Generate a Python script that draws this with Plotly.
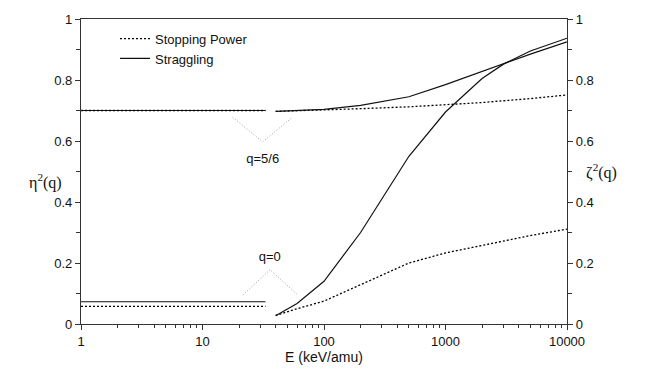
import plotly.graph_objects as go

# ---- data ----
E_low = [1, 33]
sp_q56_low = [0.70, 0.70]
st_q56_low = [0.70, 0.70]
sp_q0_low = [0.058, 0.058]
st_q0_low = [0.073, 0.073]

E_high = [40, 60, 100, 200, 500, 1000, 2000, 3000, 5000, 10000]
sp_q56 = [0.697, 0.699, 0.702, 0.706, 0.712, 0.718, 0.726, 0.732, 0.739, 0.751]
st_q56 = [0.697, 0.700, 0.704, 0.717, 0.745, 0.785, 0.828, 0.855, 0.885, 0.925]
sp_q0 = [0.028, 0.050, 0.075, 0.130, 0.200, 0.233, 0.258, 0.274, 0.290, 0.311]
st_q0 = [0.027, 0.067, 0.140, 0.300, 0.550, 0.695, 0.805, 0.852, 0.895, 0.937]

# annotation pointer "V" marks
v56_E = [17.7, 31.3, 55]
v56_y = [0.678, 0.597, 0.678]
v0_E = [21.5, 36, 61]
v0_y = [0.095, 0.178, 0.095]

labels = ["q=5/6", "q=0"]
label_E = [31.3, 35.8]
label_y = [0.54, 0.216]

x_ticks = [1, 10, 100, 1000, 10000]
x_minor = [m * d for d in [1, 10, 100, 1000] for m in range(2, 10)]
y_ticks = [0, 0.2, 0.4, 0.6, 0.8, 1]
y_ticklabels = ["0", "0.2", "0.4", "0.6", "0.8", "1"]

BLACK = "#111111"
DOT = dict(color="#000000", width=1.3, dash="2px,2px")
SOLID = dict(color=BLACK, width=1.2)
VDOT = dict(color="#a0a0a0", width=1, dash="1px,2px")

fig = go.Figure()
fig.add_trace(go.Scatter(x=E_high, y=sp_q56, mode="lines", line=DOT, name="Stopping Power", showlegend=True))
fig.add_trace(go.Scatter(x=E_high, y=st_q56, mode="lines", line=SOLID, name="Straggling", showlegend=True))
fig.add_trace(go.Scatter(x=E_high, y=sp_q0, mode="lines", line=DOT, showlegend=False))
fig.add_trace(go.Scatter(x=E_high, y=st_q0, mode="lines", line=SOLID, showlegend=False))
fig.add_trace(go.Scatter(x=E_low, y=sp_q56_low, mode="lines", line=DOT, showlegend=False))
fig.add_trace(go.Scatter(x=E_low, y=st_q56_low, mode="lines", line=SOLID, showlegend=False))
fig.add_trace(go.Scatter(x=E_low, y=sp_q0_low, mode="lines", line=DOT, showlegend=False))
fig.add_trace(go.Scatter(x=E_low, y=st_q0_low, mode="lines", line=SOLID, showlegend=False))
fig.add_trace(go.Scatter(x=v56_E, y=v56_y, mode="lines", line=VDOT, showlegend=False))
fig.add_trace(go.Scatter(x=v0_E, y=v0_y, mode="lines", line=VDOT, showlegend=False))
fig.add_trace(go.Scatter(x=label_E, y=label_y, mode="text", text=labels,
                         textfont=dict(size=13, color=BLACK), showlegend=False, hoverinfo="skip"))
# invisible trace to activate right axis
fig.add_trace(go.Scatter(x=[1], y=[0], yaxis="y2", mode="markers", marker=dict(opacity=0),
                         showlegend=False, hoverinfo="skip"))

font = dict(family="Liberation Sans, Arial, sans-serif", size=13, color=BLACK)
axis_line = dict(showline=True, linecolor="#333333", linewidth=1.2, showgrid=False, zeroline=False,
                 ticks="outside", tickcolor="#333333", ticklen=5, tickwidth=1,
                 tickfont=dict(color=BLACK, size=13))

fig.update_layout(
    width=656, height=375,
    margin=dict(l=81, r=89, t=13, b=42),
    paper_bgcolor="white", plot_bgcolor="white",
    font=font,
    xaxis=dict(type="log", range=[0, 4], tickvals=x_ticks, ticktext=[str(v) for v in x_ticks],
               mirror=True,
               minor=dict(tickvals=x_minor, ticks="outside", ticklen=3, tickcolor="#333333"),
               title=dict(text="E (keV/amu)", font=dict(size=14, color=BLACK), standoff=4), **axis_line),
    yaxis=dict(range=[0, 1], tickvals=y_ticks, ticktext=y_ticklabels,
               minor=dict(dtick=0.1, ticks="outside", ticklen=4, tickcolor="#333333"), **axis_line),
    yaxis2=dict(range=[0, 1], overlaying="y", side="right", tickvals=y_ticks, ticktext=y_ticklabels,
                minor=dict(dtick=0.1, ticks="outside", ticklen=4, tickcolor="#333333"), **axis_line),
    legend=dict(x=0.07, y=0.985, xanchor="left", yanchor="top", bgcolor="rgba(0,0,0,0)",
                font=dict(size=13, color=BLACK), itemwidth=30, tracegroupgap=0),
)

pw, ph = 656 - 81 - 89, 375 - 13 - 42
for txt, px, py in [("η<sup>2</sup>(q)", 27, 183), ("ζ<sup>2</sup>(q)", 619, 173)]:
    fig.add_annotation(text=txt, x=(px - 81) / pw, y=(375 - 42 - py) / ph, xref="paper", yref="paper",
                       showarrow=False,
                       font=dict(family="Liberation Serif, Times New Roman, serif", size=16, color=BLACK))

fig.write_html("out.html")
